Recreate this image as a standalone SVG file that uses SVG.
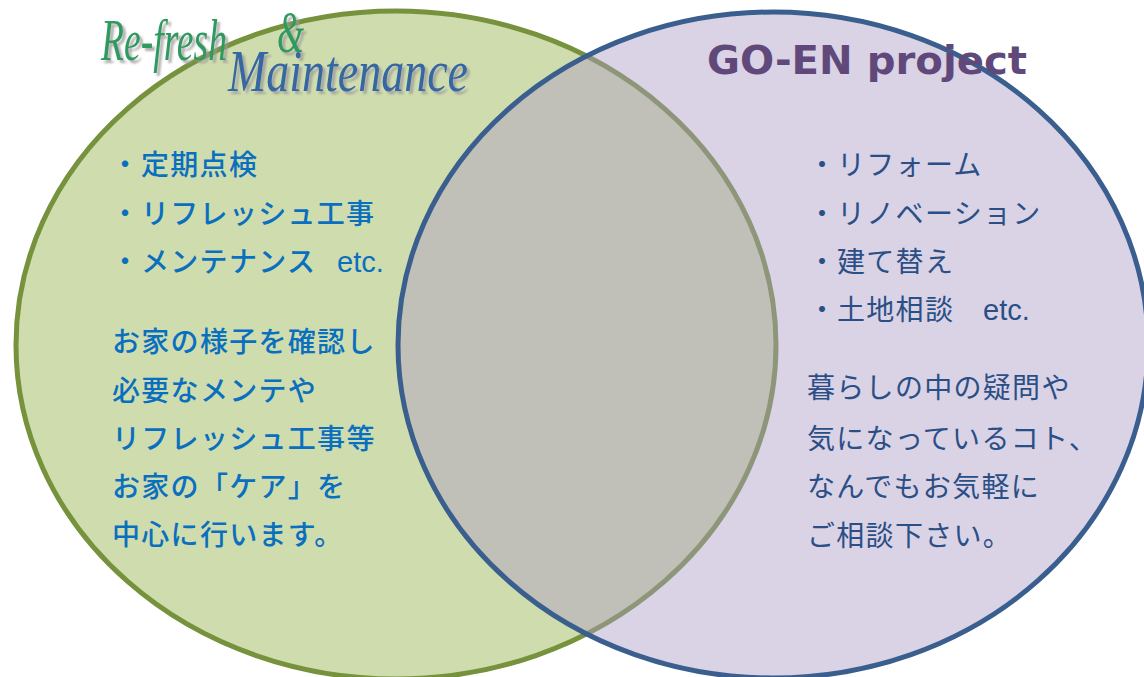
<svg xmlns="http://www.w3.org/2000/svg" width="1144" height="677" viewBox="0 0 1144 677">
<style>
.jp{font-family:"Noto Sans CJK JP","Noto Sans",sans-serif;font-size:28px;letter-spacing:1.3px}
.lt{fill:#0a6fbf;font-weight:500}
.rt{fill:#2a4f86;font-weight:400}
.lat{font-family:"Liberation Sans",Arial,sans-serif;letter-spacing:0;font-size:29px}
.ttl{font-family:"Liberation Serif","Times New Roman",serif;font-style:italic;font-size:60px}
</style>
<defs>
<filter id="sh" x="-10%" y="-20%" width="130%" height="150%">
<feDropShadow dx="3" dy="3" stdDeviation="0.8" flood-color="#9a9a9a" flood-opacity="0.8"/>
</filter>
</defs>
<rect width="1144" height="677" fill="#ffffff"/>
<g id="circle-left">
<ellipse cx="396" cy="345" rx="380" ry="334" fill="#cfddae" stroke="#76923c" stroke-width="5"/>
</g>
<g id="circle-right">
<ellipse cx="773" cy="345" rx="375" ry="333" fill="#ad9bc6" fill-opacity="0.45" stroke="#3a5f8e" stroke-width="5"/>
</g>
<g id="connectors"></g>
<g id="title-left" filter="url(#sh)">
<text class="ttl" x="101" y="60" fill="#2f9a60" textLength="126" lengthAdjust="spacingAndGlyphs">Re-fresh</text>
<text class="ttl" x="277" y="52" fill="#2f9a60" font-size="44" textLength="27" lengthAdjust="spacingAndGlyphs">&amp;</text>
<text class="ttl" x="228" y="91" fill="#3567a3" textLength="240" lengthAdjust="spacingAndGlyphs">Maintenance</text>
</g>
<g id="title-right">
<text x="707" y="74" fill="#60497a" font-family="'DejaVu Sans','Liberation Sans',sans-serif" font-weight="bold" font-size="39" textLength="320" lengthAdjust="spacingAndGlyphs">GO-EN project</text>
</g>
<g id="text-left" class="jp lt">
<text y="175"><tspan x="111">・</tspan><tspan x="141">定期点検</tspan></text>
<text y="224"><tspan x="111">・</tspan><tspan x="141">リフレッシュ工事</tspan></text>
<text y="272"><tspan x="111">・</tspan><tspan x="141">メンテナンス</tspan><tspan x="337" class="lat">etc.</tspan></text>
<text x="112" y="352">お家の様子を確認し</text>
<text x="112" y="401">必要なメンテや</text>
<text x="112" y="449">リフレッシュ工事等</text>
<text x="112" y="497">お家の「ケア」を</text>
<text x="112" y="545">中心に行います。</text>
</g>
<g id="text-right" class="jp rt">
<text y="175"><tspan x="808">・</tspan><tspan x="837">リフォーム</tspan></text>
<text y="224"><tspan x="808">・</tspan><tspan x="837">リノベーション</tspan></text>
<text y="272"><tspan x="808">・</tspan><tspan x="837">建て替え</tspan></text>
<text y="320"><tspan x="808">・</tspan><tspan x="837">土地相談</tspan><tspan x="983" class="lat">etc.</tspan></text>
<text x="807" y="398">暮らしの中の疑問や</text>
<text x="807" y="449">気になっているコト、</text>
<text x="807" y="497">なんでもお気軽に</text>
<text x="807" y="546">ご相談下さい。</text>
</g>
</svg>
